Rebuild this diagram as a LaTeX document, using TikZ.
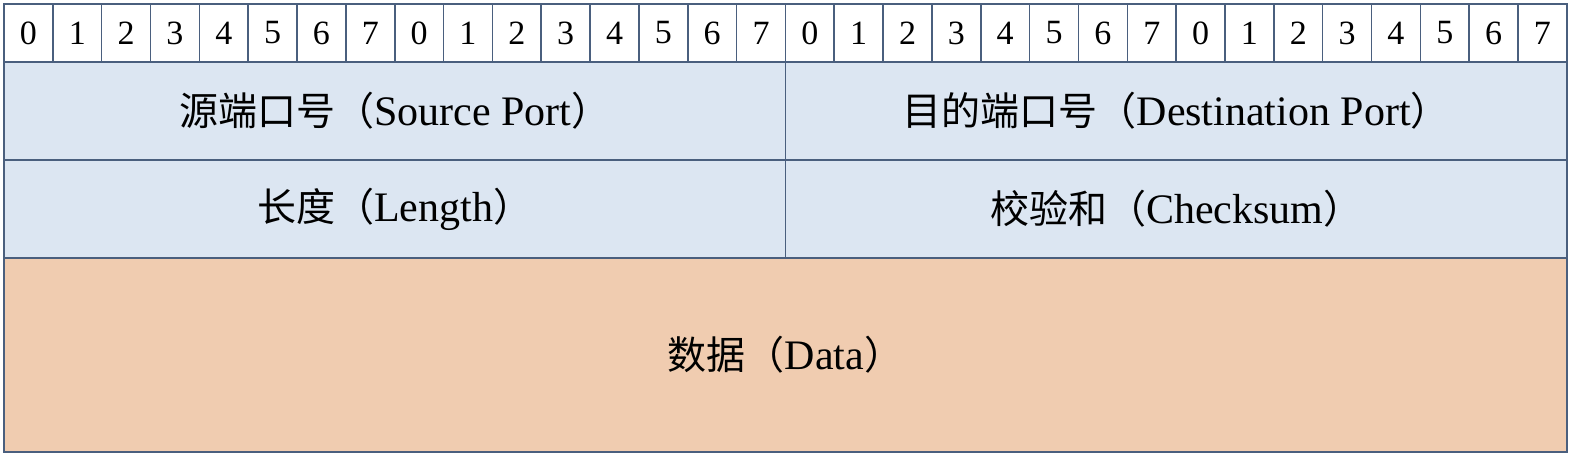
\documentclass[tikz,border=0pt]{standalone}
\usepackage{fontspec}
\setmainfont{Liberation Serif}
\newfontfamily\cjk{Noto Sans CJK SC}
\definecolor{rowblue}{HTML}{DCE6F2}
\definecolor{datapeach}{HTML}{F0CCB0}
\definecolor{gridline}{HTML}{4A5F7E}
\newcommand{\cj}[1]{{\cjk\fontsize{39}{46}\selectfont #1}}
\begin{document}
\begin{tikzpicture}[x=1pt,y=-1pt,
  field/.style={draw=gridline, line width=1.6pt, rectangle, inner sep=0pt, outer sep=0pt,
    font=\fontsize{42}{48}\selectfont},
  bitcell/.style={field, fill=white, minimum width=48.84pt, minimum height=58pt,
    font=\fontsize{34}{38}\selectfont},
  halfrow/.style={field, fill=rowblue, minimum width=781.5pt, minimum height=98pt},
  datarow/.style={field, fill=datapeach, minimum width=1563pt, minimum height=194pt}]
\useasboundingbox (0,0) rectangle (1574,460);
% header bit cells
\foreach \i in {0,...,31}{
  \pgfmathtruncatemacro{\d}{mod(\i,8)}
  \node[bitcell] (b\i) at ({4+48.84*(\i+0.5)},33) {\d};
}
\node[halfrow] (src) at (394.75,111) {\cj{源端口号（}Source Port\cj{）}};
\node[halfrow] (dst) at (1176.25,111) {\cj{目的端口号（}Destination Port\cj{）}};
\node[halfrow] (len) at (394.75,209) {\cj{长度（}Length\cj{）}};
\node[halfrow] (chk) at (1176.25,209) {\cj{校验和（}Checksum\cj{）}};
\node[datarow] (data) at (785.5,355) {\cj{数据（}Data\cj{）}};
\end{tikzpicture}
\end{document}
